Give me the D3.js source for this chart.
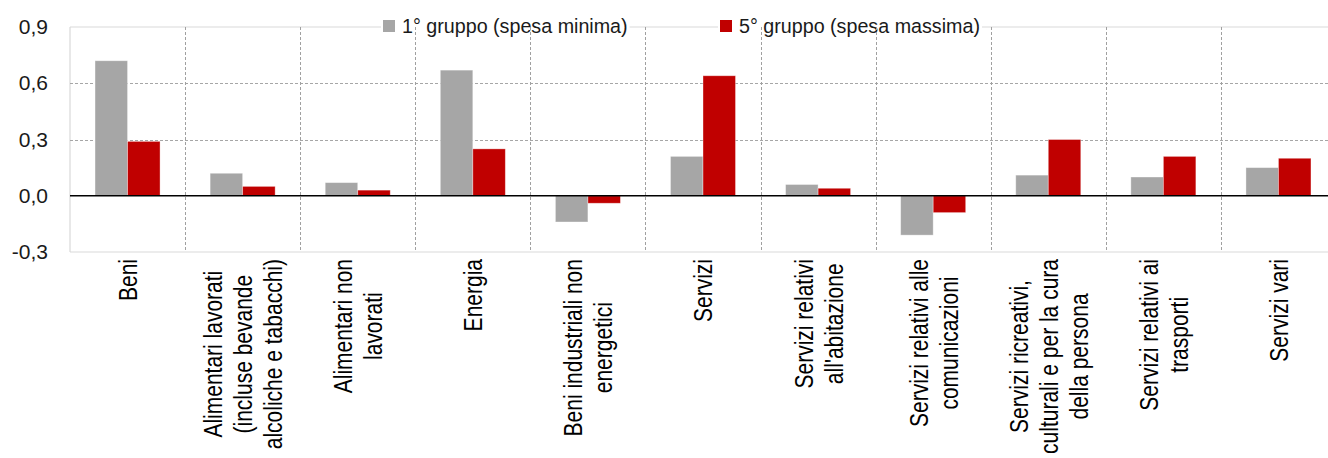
<!DOCTYPE html>
<html>
<head>
<meta charset="utf-8">
<script src="https://cdn.jsdelivr.net/npm/d3@7"></script>
<style>
  html, body { margin: 0; padding: 0; background: #fff; }
  svg { display: block; font-family: "Liberation Sans", Arial, sans-serif; }
</style>
</head>
<body>
<svg id="chart" width="1328" height="458"></svg>
<script>
// Categorie (le interruzioni di riga delle etichette sono indicate con "|")
const categories = [
  "Beni",
  "Alimentari lavorati|(incluse bevande|alcoliche e tabacchi)",
  "Alimentari non|lavorati",
  "Energia",
  "Beni industriali non|energetici",
  "Servizi",
  "Servizi relativi|all'abitazione",
  "Servizi relativi alle|comunicazioni",
  "Servizi ricreativi,|culturali e per la cura|della persona",
  "Servizi relativi ai|trasporti",
  "Servizi vari"
];

const seriesNames = ["1° gruppo (spesa minima)", "5° gruppo (spesa massima)"];
const gruppo1 = [0.72, 0.12, 0.07, 0.67, -0.14, 0.21, 0.06, -0.21, 0.11, 0.10, 0.15];
const gruppo5 = [0.29, 0.05, 0.03, 0.25, -0.04, 0.64, 0.04, -0.09, 0.30, 0.21, 0.20];
const yTicks = [-0.3, 0, 0.3, 0.6, 0.9];

const colors = ["#a6a6a6", "#c00000"];

const svg = d3.select("#chart");
const plotLeft = 70, plotRight = 1336, plotTop = 27, plotBottom = 252;

const x0 = d3.scaleBand().domain(d3.range(categories.length)).range([plotLeft, plotRight]).padding(0);
const bw = x0.bandwidth();
const groupW = bw * 0.565;
const x1 = d3.scaleBand().domain([0, 1]).range([(bw - groupW) / 2, (bw + groupW) / 2]).padding(0);
const y = d3.scaleLinear().domain([-0.3, 0.9]).range([plotBottom, plotTop]);

const fmt = v => d3.format(".1f")(v).replace(".", ",").replace("−", "-");

// Cornice dell'area del grafico
const frame = svg.append("g").attr("stroke", "#d9d9d9").attr("stroke-width", 1.2);
frame.append("line").attr("x1", plotLeft).attr("x2", plotRight).attr("y1", y(0.9)).attr("y2", y(0.9));
frame.append("line").attr("x1", plotLeft).attr("x2", plotRight).attr("y1", y(-0.3)).attr("y2", y(-0.3));
frame.append("line").attr("x1", plotLeft).attr("x2", plotLeft).attr("y1", y(0.9)).attr("y2", y(-0.3));

// Griglia orizzontale tratteggiata
svg.append("g").selectAll("line")
  .data(yTicks.filter(t => t > 0 && t < 0.9))
  .join("line")
  .attr("x1", plotLeft).attr("x2", plotRight)
  .attr("y1", d => Math.round(y(d)) + 0.5).attr("y2", d => Math.round(y(d)) + 0.5)
  .attr("stroke", "#a6a6a6").attr("stroke-dasharray", "3,2");

// Legenda: sfondo bianco sopra il bordo superiore
const legendX = [383, 720];
const legend = svg.append("g");
const items = legend.selectAll("g").data(seriesNames).join("g")
  .attr("transform", (d, i) => `translate(${legendX[i]},0)`);
items.append("rect").attr("class", "bg").attr("fill", "#fff");
items.append("rect")
  .attr("x", 0).attr("y", 20).attr("width", 12).attr("height", 12)
  .attr("fill", (d, i) => colors[i]);
items.append("text")
  .attr("x", 19).attr("y", 33)
  .attr("font-size", 19.7)
  .attr("fill", "#1a1a1a")
  .text(d => d);
items.each(function() {
  const g = d3.select(this);
  const w = g.select("text").node().getComputedTextLength();
  g.select("rect.bg").attr("x", -2).attr("y", 18).attr("width", 19 + w + 4).attr("height", 18);
});

// Griglia verticale tratteggiata ai confini delle categorie
svg.append("g").selectAll("line")
  .data(d3.range(1, categories.length + 1))
  .join("line")
  .attr("x1", d => Math.round(plotLeft + d * bw) + 0.5).attr("x2", d => Math.round(plotLeft + d * bw) + 0.5)
  .attr("y1", y(0.9)).attr("y2", y(-0.3))
  .attr("stroke", "#a0a0a0").attr("stroke-dasharray", "3,2");

// Barre
const series = [gruppo1, gruppo5];
const groups = svg.append("g").selectAll("g")
  .data(categories.map((c, i) => ({ i, values: series.map(s => s[i]) })))
  .join("g")
  .attr("transform", d => `translate(${x0(d.i)},0)`);
groups.selectAll("rect")
  .data(d => d.values.map((v, k) => ({ k, v })))
  .join("rect")
  .attr("x", d => x1(d.k))
  .attr("width", x1.bandwidth())
  .attr("y", d => y(Math.max(0, d.v)))
  .attr("height", d => Math.abs(y(d.v) - y(0)))
  .attr("fill", d => colors[d.k])
  .attr("stroke", "#ffffff").attr("stroke-opacity", 0.45).attr("stroke-width", 0.8);

// Linea dello zero
svg.append("line")
  .attr("x1", plotLeft).attr("x2", plotRight)
  .attr("y1", y(0)).attr("y2", y(0))
  .attr("stroke", "#000").attr("stroke-width", 1.4);

// Asse verticale
const yAxis = svg.append("g")
  .attr("transform", `translate(${plotLeft},0)`)
  .call(d3.axisLeft(y).tickValues(yTicks).tickSize(0).tickPadding(22).tickFormat(fmt));
yAxis.select(".domain").remove();
yAxis.selectAll("text")
  .attr("font-size", 21)
  .attr("font-family", "'Liberation Sans', Arial, sans-serif")
  .attr("fill", "#1a1a1a");

// Asse orizzontale con etichette ruotate su più righe
const xAxis = svg.append("g")
  .attr("transform", `translate(0,${plotBottom})`)
  .call(d3.axisBottom(x0).tickSize(0).tickFormat(""));
xAxis.select(".domain").remove();

const fs = 21, lh = 24, stretch = 1.25, labelTop = 259;
xAxis.selectAll(".tick").each(function(d) {
  const lines = categories[d].split("|");
  const t = d3.select(this).select("text")
    .attr("font-size", fs)
    .attr("font-family", "'Liberation Sans', Arial, sans-serif")
    .attr("fill", "#000")
    .attr("text-anchor", "middle")
    .attr("y", null).attr("dy", null);
  t.selectAll("tspan").data(lines).join("tspan")
    .attr("x", 0)
    .attr("y", (l, i) => (i - (lines.length - 1) / 2) * lh)
    .attr("dy", "0.36em")
    .text(l => l);
  const maxLen = d3.max(t.selectAll("tspan").nodes(), n => n.getComputedTextLength());
  t.attr("transform",
    `translate(0,${labelTop - plotBottom + maxLen / 2}) rotate(-90) scale(1,${stretch})`);
});
</script>
</body>
</html>
